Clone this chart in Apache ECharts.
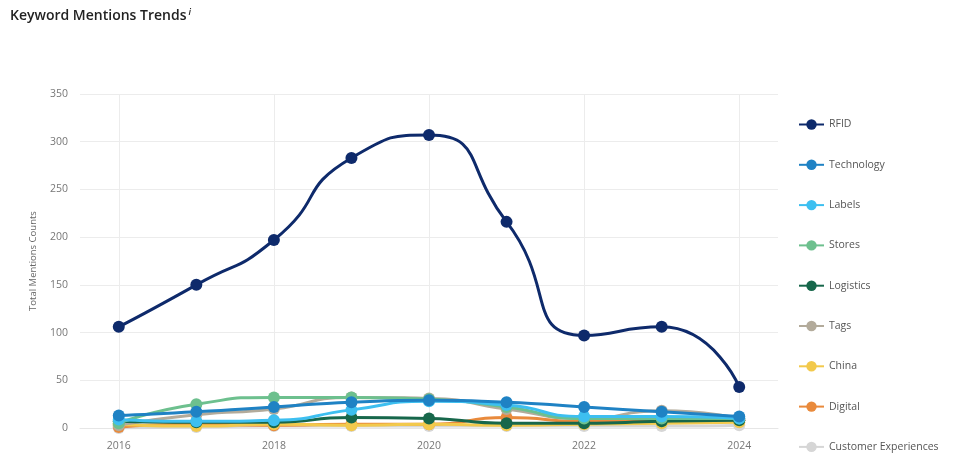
<!DOCTYPE html>
<html>
<head>
<meta charset="utf-8">
<script src="https://cdn.jsdelivr.net/npm/echarts@6/dist/echarts.min.js"></script>
<style>
  html, body { margin: 0; padding: 0; background: #fff; }
  #chart { width: 960px; height: 466px; }
</style>
</head>
<body>
<div id="chart"></div>
<script>
const years = ['2016', '2017', '2018', '2019', '2020', '2021', '2022', '2023', '2024'];

const rfid = [106, 150, 197, 283, 307, 216, 97, 106, 43];
const technology = [13, 17, 22, 27, 29, 27, 22, 17, 12];
const labels = [9, 7, 8, 19, 28, 24, 12, 12, 10];
const stores = [5, 25, 32, 32, 30, 22, 10, 10, 10];
const logistics = [7, 6, 6, 11, 10, 5, 5, 7, 8];
const tags = [3, 14, 20, 32, 31, 20, 10, 18, 10];
const china = [4, 2, 4, 3, 4, 3, 4, 5, 6];
const digital = [1, 4, 3, 4, 4, 11, 7, 8, 8];
const customerExperiences = [0, 1, 2, 2, 2, 2, 2, 2, 3];
const other = ['-', '-', '-', '-', '-', '-', '-', 10, 8];

const yTicks = [0, 50, 100, 150, 200, 250, 300, 350];

const seriesDefs = [
  { name: 'RFID', data: rfid, color: '#0e2a6b' },
  { name: 'Technology', data: technology, color: '#1f82c4' },
  { name: 'Labels', data: labels, color: '#3dbff0' },
  { name: 'Stores', data: stores, color: '#6dc08e' },
  { name: 'Logistics', data: logistics, color: '#17674b' },
  { name: 'Tags', data: tags, color: '#b3ab9b' },
  { name: 'China', data: china, color: '#f2c94c' },
  { name: 'Digital', data: digital, color: '#e98a3c' },
  { name: 'Customer Experiences', data: customerExperiences, color: '#d6d6d6' },
  { name: 'Other', data: other, color: '#cf3a36' }
];

const chart = echarts.init(document.getElementById('chart'));

const option = {
  animation: false,
  textStyle: { fontFamily: 'Open Sans' },
  title: {
    text: '{t|Keyword Mentions Trends}{i|i}',
    left: 5,
    top: 3,
    textStyle: {
      rich: {
        t: { fontSize: 14, fontWeight: 600, color: '#222', fontFamily: 'Open Sans' },
        i: { fontSize: 9, fontStyle: 'italic', fontWeight: 600, color: '#222', verticalAlign: 'top', padding: [0, 0, 8, 2] }
      }
    }
  },
  legend: {
    orient: 'vertical',
    left: 793,
    top: 114,
    height: 420,
    itemGap: 29.3,
    itemWidth: 25,
    itemHeight: 13,
    data: seriesDefs.slice(0, 9).map(s => s.name),
    textStyle: { fontSize: 10.5, color: '#555', fontFamily: 'Open Sans' }
  },
  grid: { left: 80, right: 182, top: 94, bottom: 38 },
  xAxis: {
    type: 'category',
    data: years,
    boundaryGap: true,
    axisLine: { lineStyle: { color: '#e6e6e6' } },
    axisTick: { show: false },
    axisLabel: { interval: 1, color: '#777', fontSize: 10.5, margin: 13 },
    splitLine: { show: false }
  },
  yAxis: {
    type: 'value',
    min: yTicks[0],
    max: yTicks[yTicks.length - 1],
    interval: 50,
    name: 'Total Mentions Counts',
    nameLocation: 'middle',
    nameGap: 42,
    nameTextStyle: { color: '#666', fontSize: 9.5 },
    axisLine: { show: false },
    axisTick: { show: false },
    axisLabel: { color: '#777', fontSize: 10.5, margin: 12 },
    splitLine: { lineStyle: { color: '#ececec' } }
  },
  series: seriesDefs.map((s, idx) => ({
    name: s.name,
    type: 'line',
    data: s.data,
    smooth: 0.6,
    symbol: 'circle',
    symbolSize: 12,
    showSymbol: true,
    color: s.color,
    lineStyle: { width: 3, color: s.color },
    itemStyle: { color: s.color },
    z: 20 - idx,
    markLine: idx === 0 ? {
      silent: true,
      symbol: 'none',
      label: { show: false },
      lineStyle: { color: '#ececec', type: 'solid', width: 1 },
      data: ['2016', '2018', '2020', '2022', '2024'].map(y => ({ xAxis: y }))
    } : undefined
  }))
};

chart.setOption(option);
</script>
</body>
</html>
